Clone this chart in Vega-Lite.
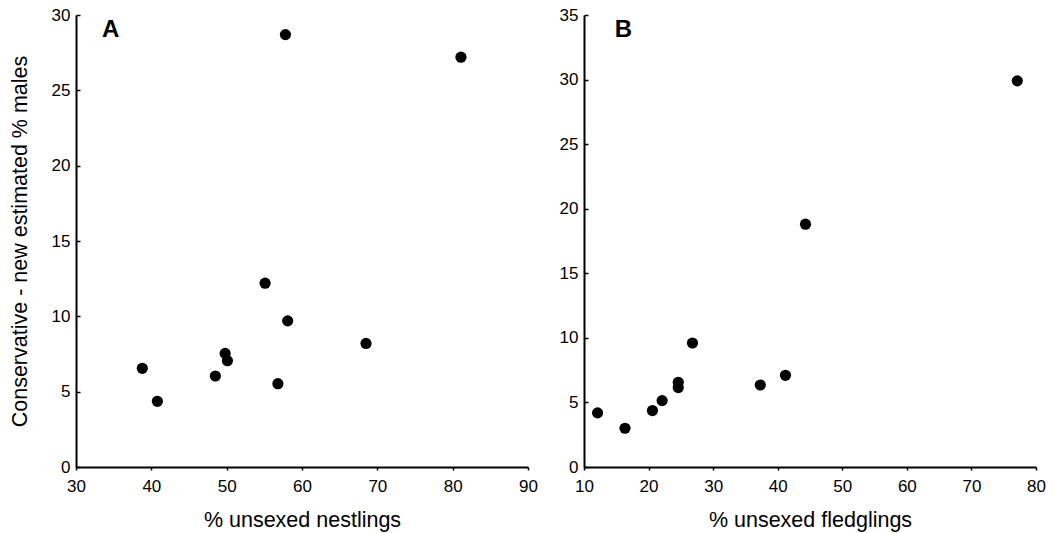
{
  "$schema": "https://vega.github.io/schema/vega-lite/v6.json",
  "padding": {"left": 9, "top": 6, "right": 5, "bottom": 5},
  "background": "white",
  "bounds": "flush",
  "spacing": 56,
  "datasets": {
    "a": [
      {"x": 57.8, "y": 28.7},
      {"x": 81.1, "y": 27.2},
      {"x": 55.1, "y": 12.2},
      {"x": 58.1, "y": 9.7},
      {"x": 68.5, "y": 8.2},
      {"x": 38.8, "y": 6.55},
      {"x": 40.8, "y": 4.36},
      {"x": 48.5, "y": 6.04},
      {"x": 49.8, "y": 7.54},
      {"x": 50.1, "y": 7.05},
      {"x": 56.8, "y": 5.53}
    ],
    "b": [
      {"x": 77.1, "y": 29.9},
      {"x": 44.3, "y": 18.8},
      {"x": 26.8, "y": 9.6},
      {"x": 41.2, "y": 7.1},
      {"x": 37.3, "y": 6.35},
      {"x": 24.6, "y": 6.56},
      {"x": 24.6, "y": 6.15},
      {"x": 22.1, "y": 5.14},
      {"x": 20.6, "y": 4.37},
      {"x": 12.1, "y": 4.19},
      {"x": 16.35, "y": 3.0}
    ]
  },
  "hconcat": [
    {
      "width": 452,
      "height": 452,
      "layer": [
        {
          "data": {"name": "a"},
          "mark": {"type": "point", "filled": true, "shape": "circle", "size": 125, "color": "black", "opacity": 1},
          "encoding": {
            "x": {"field": "x", "type": "quantitative", "scale": {"domain": [30, 90], "nice": false, "zero": false},
                  "axis": {"values": [30, 40, 50, 60, 70, 80, 90], "title": "% unsexed nestlings"}},
            "y": {"field": "y", "type": "quantitative", "scale": {"domain": [0, 30], "nice": false},
                  "axis": {"values": [0, 5, 10, 15, 20, 25, 30], "title": "Conservative - new estimated % males"}}
          }
        },
        {
          "data": {"values": [{"panel": "A"}]},
          "mark": {"type": "text", "fontSize": 24, "fontWeight": "bold", "align": "center", "baseline": "middle", "color": "black"},
          "encoding": {
            "text": {"field": "panel"},
            "x": {"datum": 34.6, "type": "quantitative"},
            "y": {"datum": 29.03, "type": "quantitative"}
          }
        }
      ]
    },
    {
      "width": 452,
      "height": 452,
      "layer": [
        {
          "data": {"name": "b"},
          "mark": {"type": "point", "filled": true, "shape": "circle", "size": 125, "color": "black", "opacity": 1},
          "encoding": {
            "x": {"field": "x", "type": "quantitative", "scale": {"domain": [10, 80], "nice": false, "zero": false},
                  "axis": {"values": [10, 20, 30, 40, 50, 60, 70, 80], "title": "% unsexed fledglings"}},
            "y": {"field": "y", "type": "quantitative", "scale": {"domain": [0, 35], "nice": false},
                  "axis": {"values": [0, 5, 10, 15, 20, 25, 30, 35], "title": null}}
          }
        },
        {
          "data": {"values": [{"panel": "B"}]},
          "mark": {"type": "text", "fontSize": 24, "fontWeight": "bold", "align": "center", "baseline": "middle", "color": "black"},
          "encoding": {
            "text": {"field": "panel"},
            "x": {"datum": 16.1, "type": "quantitative"},
            "y": {"datum": 33.8, "type": "quantitative"}
          }
        }
      ]
    }
  ],
  "config": {
    "font": "Liberation Sans",
    "view": {"stroke": null},
    "axis": {
      "grid": false,
      "domainColor": "black",
      "domainWidth": 2,
      "tickColor": "black",
      "tickWidth": 1.5,
      "labelColor": "black",
      "labelFontSize": 17,
      "labelFlush": false,
      "labelOverlap": false,
      "titleColor": "black",
      "titleFontSize": 21.5,
      "titleFontWeight": "normal"
    },
    "axisX": {"tickSize": 3, "labelPadding": 8, "titlePadding": 15},
    "axisY": {"tickSize": -4, "labelPadding": 10, "titlePadding": 20}
  }
}
